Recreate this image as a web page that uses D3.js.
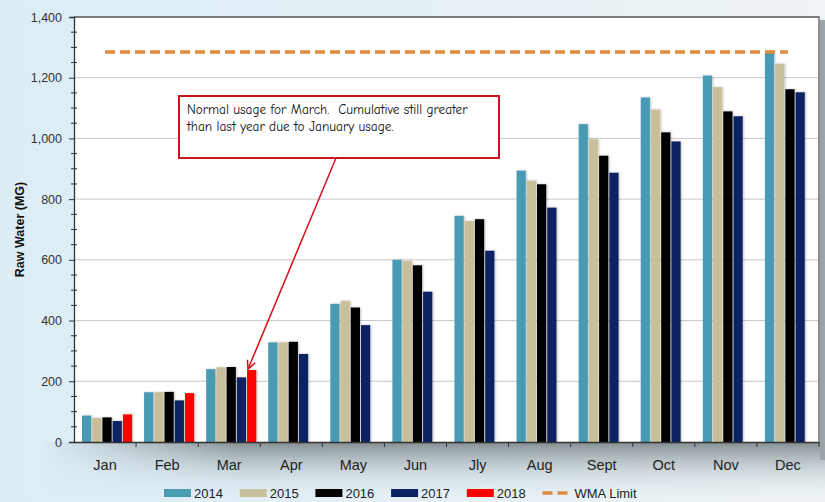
<!DOCTYPE html>
<html>
<head>
<meta charset="utf-8">
<script src="https://cdn.jsdelivr.net/npm/d3@7"></script>
<style>
  body { margin: 0; }
  svg { display: block; }
</style>
</head>
<body>
<svg width="825" height="502"></svg>
<script>
var months = ["Jan", "Feb", "Mar", "Apr", "May", "Jun", "Jly", "Aug", "Sept", "Oct", "Nov", "Dec"];
var years = ["2014", "2015", "2016", "2017", "2018"];
var v2014 = [87, 164, 240, 328, 455, 600, 745, 894, 1047, 1135, 1207, 1285];
var v2015 = [79, 164, 246, 328, 465, 596, 728, 861, 997, 1095, 1169, 1246];
var v2016 = [81, 165, 247, 330, 443, 582, 734, 849, 943, 1020, 1089, 1162];
var v2017 = [69, 137, 213, 290, 385, 495, 630, 772, 887, 990, 1073, 1152];
var v2018 = [91, 161, 237];
var wmaLimit = 1285;
var yTicks = [0, 200, 400, 600, 800, 1000, 1200, 1400];
var colors = ["#4a9bb4", "#c8c09a", "#000000", "#0b2363", "#ff0000"];
var noteLines = ["Normal usage for March.  Cumulative still greater", "than last year due to January usage."];

var series = [v2014, v2015, v2016, v2017, v2018];
var width = 825, height = 502,
    margin = {top: 17, right: 6, bottom: 60, left: 74};

var svg = d3.select("svg");
var defs = svg.append("defs");

// page background
var bg = defs.append("linearGradient").attr("id", "bg").attr("x1", 0).attr("x2", 1).attr("y1", 0).attr("y2", 0);
bg.append("stop").attr("offset", 0).attr("stop-color", "#dcedf6");
bg.append("stop").attr("offset", 1).attr("stop-color", "#eef3f5");
svg.append("rect").attr("width", width).attr("height", height).attr("fill", "url(#bg)");

// shadow under plot
var sh = defs.append("linearGradient").attr("id", "sh").attr("x1", 0).attr("x2", 0).attr("y1", 0).attr("y2", 1);
sh.append("stop").attr("offset", 0).attr("stop-color", "#7f898d").attr("stop-opacity", 0.95);
sh.append("stop").attr("offset", 1).attr("stop-color", "#dcecf2").attr("stop-opacity", 0);
var shx = defs.append("linearGradient").attr("id", "shx").attr("x1", 0).attr("x2", 1).attr("y1", 0).attr("y2", 0);
shx.append("stop").attr("offset", 0).attr("stop-color", "#fff").attr("stop-opacity", 0);
shx.append("stop").attr("offset", 0.25).attr("stop-color", "#fff").attr("stop-opacity", 1);
var mask = defs.append("mask").attr("id", "shm");
mask.append("rect").attr("x", 40).attr("y", 440).attr("width", 785).attr("height", 62).attr("fill", "url(#shx)");
svg.append("rect").attr("x", 40).attr("y", 442).attr("width", 785).attr("height", 58)
    .attr("fill", "url(#sh)").attr("mask", "url(#shm)");

// right edge shadow
svg.append("rect").attr("x", 820).attr("y", 20).attr("width", 5).attr("height", 440).attr("fill", "#9aa3a7");

var x0 = margin.left, x1 = width - margin.right, yb = height - margin.bottom;

var scX = d3.scaleBand().domain(months).range([x0, x1]);
var scSub = d3.scaleBand().domain(years).range([8, scX.bandwidth() - 4]).paddingInner(0.1);
var scY = d3.scaleLinear().domain([0, 1400]).range([yb, margin.top]);

// plot area
svg.append("rect").attr("x", x0).attr("y", margin.top).attr("width", x1 - x0).attr("height", yb - margin.top)
    .attr("fill", "#fff");

// gridlines
svg.append("g").selectAll("line").data(yTicks.slice(1, -1)).enter()
    .append("line")
    .attr("x1", x0).attr("x2", x1)
    .attr("y1", d => scY(d)).attr("y2", d => scY(d))
    .attr("stroke", "#c9c9c9").attr("stroke-width", 1);

// plot border top/right
svg.append("path")
    .attr("d", "M" + x0 + "," + scY(1400) + "H" + x1 + "V" + yb)
    .attr("fill", "none").attr("stroke", "#555").attr("stroke-width", 1.3);

// bars
var shadow = defs.append("filter").attr("id", "bs").attr("x", "-30%").attr("y", "-5%").attr("width", "160%").attr("height", "110%");
shadow.append("feDropShadow").attr("dx", 1).attr("dy", 0).attr("stdDeviation", 0.8).attr("flood-color", "#000").attr("flood-opacity", 0.25);

series.forEach(function(vals, i) {
    svg.append("g").attr("id", "s" + years[i])
        .attr("fill", colors[i]).attr("filter", "url(#bs)")
        .selectAll("rect")
        .data(vals).enter()
        .append("rect")
        .attr("x", (d, j) => scX(months[j]) + scSub(years[i]))
        .attr("width", scSub.bandwidth())
        .attr("y", d => scY(d))
        .attr("height", d => scY(0) - scY(d));
});

// WMA limit line
var lineMaker = d3.line().x(d => scX(d) + scX.bandwidth() / 2).y(() => scY(wmaLimit));
svg.append("path")
    .attr("d", lineMaker([months[0], months[months.length - 1]]))
    .attr("fill", "none").attr("stroke", "#e08a3c").attr("stroke-width", 3.5)
    .attr("stroke-dasharray", "10,5");

// y axis
var yAxis = d3.axisLeft(scY).tickValues(yTicks).tickFormat(d3.format(",")).tickSize(5).tickPadding(7);
var gy = svg.append("g").attr("transform", "translate(" + x0 + ",0)").call(yAxis);
gy.select(".domain").attr("stroke", "#333").attr("stroke-width", 1.3);
gy.selectAll(".tick line").attr("stroke", "#333");
gy.selectAll("text").attr("font-family", "Liberation Sans, Arial, sans-serif").attr("font-size", 12.5).attr("fill", "#333");
// minor ticks
gy.append("g").selectAll("line").data(d3.range(50, 1400, 50).filter(d => d % 200 !== 0)).enter()
    .append("line")
    .attr("x1", -3).attr("x2", 3)
    .attr("y1", d => scY(d)).attr("y2", d => scY(d))
    .attr("stroke", "#333");

// x axis
var xAxis = d3.axisBottom(scX).tickSize(0).tickPadding(18);
var gx = svg.append("g").attr("transform", "translate(0," + yb + ")").call(xAxis);
gx.select(".domain").attr("stroke", "#333").attr("stroke-width", 1.3);
gx.selectAll("text").attr("font-family", "Liberation Sans, Arial, sans-serif").attr("font-size", 14.5).attr("fill", "#222");
gx.append("g").selectAll("line").data(months.slice(1).concat(["end"])).enter()
    .append("line")
    .attr("x1", d => d === "end" ? x1 : scX(d)).attr("x2", d => d === "end" ? x1 : scX(d))
    .attr("y1", 0).attr("y2", 5)
    .attr("stroke", "#333");

// y title
svg.append("text")
    .attr("transform", "translate(24," + scY(700) + ") rotate(-90)")
    .attr("text-anchor", "middle")
    .attr("font-family", "Liberation Sans, Arial, sans-serif")
    .attr("font-size", 12.5).attr("font-weight", "bold").attr("fill", "#111")
    .text("Raw Water (MG)");

// annotation
var note = svg.append("g");
note.append("rect").attr("x", 179).attr("y", 96).attr("width", 320).attr("height", 62)
    .attr("fill", "#fff").attr("stroke", "#c8161d").attr("stroke-width", 2);
note.selectAll("text").data(noteLines).enter()
    .append("text")
    .attr("x", 187).attr("y", (d, i) => 114 + i * 17)
    .attr("xml:space", "preserve")
    .attr("font-family", "Comic Sans MS, Comic Neue, Liberation Sans, sans-serif")
    .attr("font-size", 13.3).attr("fill", "#111")
    .text(d => d);

var marker = defs.append("marker").attr("id", "arr").attr("viewBox", "0 0 10 10")
    .attr("refX", 9).attr("refY", 5).attr("markerWidth", 7).attr("markerHeight", 7)
    .attr("orient", "auto-start-reverse");
marker.append("path").attr("d", "M1,1 L9,5 L1,9").attr("fill", "none").attr("stroke", "#d0121b").attr("stroke-width", 1.5);

var tipX = scX("Mar") + scSub("2018") + 1, tipY = scY(v2018[2]) - 1;
svg.append("line")
    .attr("x1", 336).attr("y1", 158).attr("x2", tipX).attr("y2", tipY)
    .attr("stroke", "#d0121b").attr("stroke-width", 1.5).attr("marker-end", "url(#arr)");

// legend
var legendItems = years.map((y, i) => ({label: y, color: colors[i], dash: false}))
    .concat([{label: "WMA Limit", color: "#e08a3c", dash: true}]);
var legend = svg.append("g").attr("transform", "translate(164,493)");
var lg = legend.selectAll("g").data(legendItems).enter()
    .append("g").attr("transform", (d, i) => "translate(" + i * 75.7 + ",0)");
lg.filter(d => !d.dash).append("rect")
    .attr("x", 0).attr("y", -4).attr("width", 27).attr("height", 8)
    .attr("fill", d => d.color);
lg.filter(d => d.dash).append("line")
    .attr("x1", 0).attr("x2", 27).attr("y1", 0).attr("y2", 0)
    .attr("stroke", d => d.color).attr("stroke-width", 3.5).attr("stroke-dasharray", "10,5");
lg.append("text")
    .attr("x", d => d.dash ? 32 : 30).attr("y", 4.5)
    .attr("font-family", "Liberation Sans, Arial, sans-serif")
    .attr("font-size", 13).attr("fill", "#222")
    .text(d => d.label);
</script>
</body>
</html>
